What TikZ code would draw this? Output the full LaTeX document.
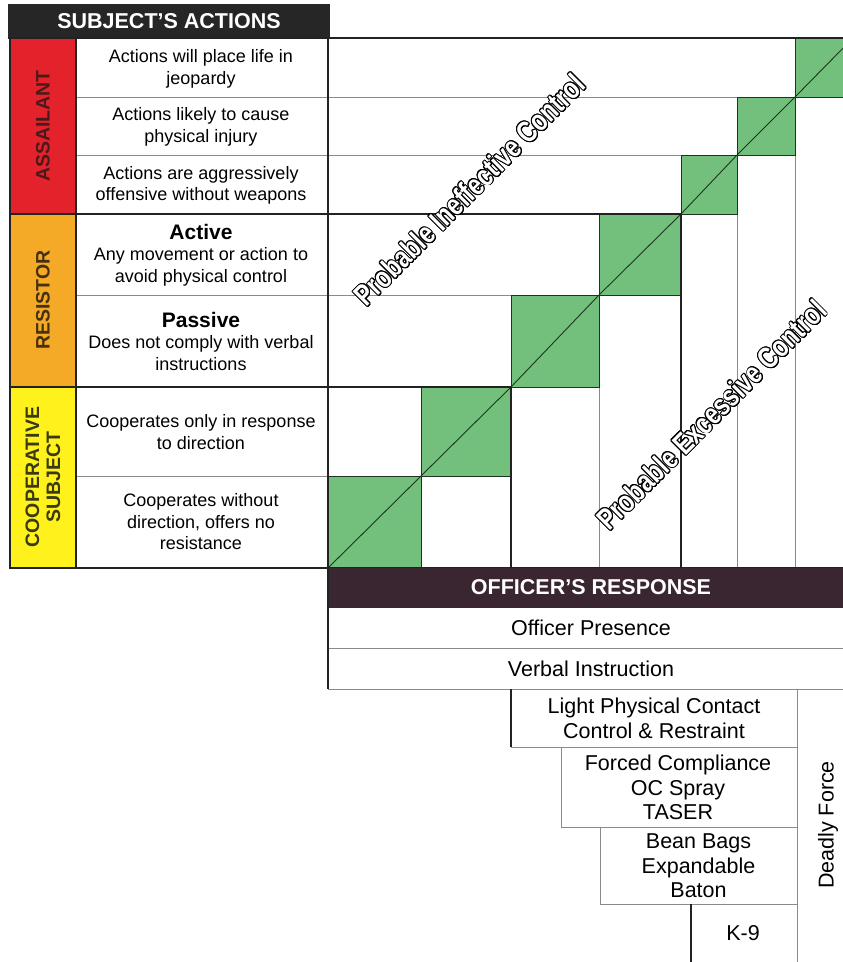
\documentclass[tikz,border=0pt]{standalone}
\usepackage{fontspec}
\setmainfont{Liberation Sans}
\usepackage{graphicx}
\usepackage{contour}
\contourlength{1.1pt}
\definecolor{hdrdark}{HTML}{262626}
\definecolor{offbar}{HTML}{3A2630}
\definecolor{sqgreen}{HTML}{73C07D}
\definecolor{sqedge}{HTML}{1E3322}
\definecolor{gridgray}{HTML}{8A8A8A}
\definecolor{linedark}{HTML}{222222}
\definecolor{redc}{HTML}{E3222B}
\definecolor{orangec}{HTML}{F4AA26}
\definecolor{yellowc}{HTML}{FFF21C}
\definecolor{redtxt}{HTML}{4A1A1A}
\definecolor{orangetxt}{HTML}{47300E}
\definecolor{yellowtxt}{HTML}{3A3A10}
\tikzset{
  thinline/.style={draw=gridgray, line width=0.9pt},
  boldline/.style={draw=linedark, line width=2.6pt},
  greensq/.style={fill=sqgreen, draw=sqedge, line width=1pt},
  diagline/.style={draw=sqedge, line width=0.9pt},
  celltext/.style={align=center, inner sep=0pt, font=\fontsize{18}{21.5}\selectfont},
  resptext/.style={align=center, inner sep=0pt, font=\fontsize{21.5}{24.5}\selectfont},
  bartext/.style={inner sep=0pt, text=white, font=\fontsize{21.5}{24}\selectfont\bfseries},
  cattext/.style={rotate=90, align=center, inner sep=0pt, font=\fontsize{19.5}{21}\selectfont\bfseries},
  outlinetext/.style={rotate=45, inner sep=0pt, text=white, font=\fontsize{30}{30}\selectfont\bfseries}
}
\begin{document}
\begin{tikzpicture}[x=1pt,y=-1pt]
\useasboundingbox (0,0) rectangle (843,962);
\fill[white] (0,0) rectangle (843,962);
\clip (0,0) rectangle (843,962);

% ---------- header ----------
\fill[hdrdark] (8,4) rectangle (329.5,39);
\node[bartext] (hdr) at (169,21.5) {SUBJECT’S ACTIONS};

% ---------- left category column ----------
\fill[redc] (10,38) rectangle (76,214);
\fill[orangec] (10,214) rectangle (76,387);
\fill[yellowc] (10,387) rectangle (76,568);
\node[cattext, text=redtxt] (cat1) at (43,126) {ASSAILANT};
\node[cattext, text=orangetxt] (cat2) at (43,300) {RESISTOR};
\node[cattext, text=yellowtxt] (cat3) at (43,477) {COOPERATIVE\\SUBJECT};

% thin row lines of left table
\draw[thinline] (76,97) -- (328,97);
\draw[thinline] (76,155) -- (328,155);
\draw[thinline] (76,295) -- (328,295);
\draw[thinline] (76,476) -- (328,476);

% row texts
\node[celltext] (r1) at (201,69) {Actions will place life in\\jeopardy};
\node[celltext] (r2) at (201,127) {Actions likely to cause\\physical injury};
\node[celltext] (r3) at (201,185.5) {Actions are aggressively\\offensive without weapons};
\node[celltext] (r4) at (201,255) {{\fontsize{21}{22}\selectfont\bfseries Active}\\Any movement or action to\\avoid physical control};
\node[celltext] (r5) at (201,341) {{\fontsize{21}{22}\selectfont\bfseries Passive}\\Does not comply with verbal\\instructions};
\node[celltext] (r6) at (201,432) {Cooperates only in response\\to direction};
\node[celltext] (r7) at (201,522) {Cooperates without\\direction, offers no\\resistance};

% ---------- grid: thin lines ----------
\draw[thinline] (328,476) -- (511,476);
\draw[thinline] (328,387) -- (599,387);
\draw[thinline] (328,295) -- (681,295);
\draw[thinline] (328,214) -- (737,214);
\draw[thinline] (328,155) -- (795,155);
\draw[thinline] (328,97) -- (853,97);
\draw[thinline] (421,568) -- (421,387);
\draw[thinline] (511,568) -- (511,295);
\draw[thinline] (599,568) -- (599,214);
\draw[thinline] (681,568) -- (681,155);
\draw[thinline] (737,568) -- (737,97);
\draw[thinline] (795,568) -- (795,38);

% ---------- green diagonal squares ----------
\draw[greensq] (328,568) rectangle (421,476);
\draw[greensq] (421,476) rectangle (511,387);
\draw[greensq] (511,387) rectangle (599,295);
\draw[greensq] (599,295) rectangle (681,214);
\draw[greensq] (681,214) rectangle (737,155);
\draw[greensq] (737,155) rectangle (795,97);
\draw[greensq] (795,97) rectangle (853,38);
\draw[diagline] (328,568) -- (421,476) -- (511,387) -- (599,295) -- (681,214) -- (737,155) -- (795,97) -- (853,38);

% ---------- thick category lines ----------
\draw[boldline] (10,38) rectangle (328,568);
\draw[boldline] (76,38) -- (76,568);
\draw[boldline] (10,214) -- (328,214);
\draw[boldline] (10,387) -- (328,387);
\draw[boldline] (328,38) -- (843,38);
\draw[boldline] (328,387) -- (511,387);
\draw[boldline] (511,387) -- (511,568);
\draw[boldline] (328,214) -- (681,214);
\draw[boldline] (681,214) -- (681,568);
\draw[boldline] (10,568) -- (843,568);

% ---------- diagonal outlined labels ----------
\node[outlinetext] (ineff) at (470,190) {\scalebox{0.78}[1]{\contour{black}{Probable Ineffective Control}}};
\node[outlinetext] (exces) at (712,415) {\scalebox{0.78}[1]{\contour{black}{Probable Excessive Control}}};

% ---------- officer's response ----------
\fill[offbar] (328,568) rectangle (843,608);
\node[bartext] (ofr) at (591,587.5) {OFFICER’S RESPONSE};

\draw[thinline] (328,648) -- (843,648);
\draw[thinline] (328,689) -- (843,689);
\draw[thinline] (511,747) -- (797,747);
\draw[thinline] (797,689) -- (797,962);
\draw[thinline] (561,747) -- (561,827) -- (797,827);
\draw[thinline] (600,827) -- (600,904) -- (797,904);
\draw[boldline] (328,568) -- (328,689);
\draw[boldline] (511,689) -- (511,747);
\draw[boldline] (691,904) -- (691,962);

\node[resptext] (pres) at (591,628) {Officer Presence};
\node[resptext] (verb) at (591,668.5) {Verbal Instruction};
\node[resptext] (light) at (654,718.5) {Light Physical Contact\\Control \& Restraint};
\node[resptext] (forced) at (678,787.5) {Forced Compliance\\OC Spray\\TASER};
\node[resptext] (bean) at (698.5,866) {Bean Bags\\Expandable\\Baton};
\node[resptext] (k9) at (743,933) {K-9};
\node[resptext, rotate=90] (deadly) at (828,825) {Deadly Force};
\end{tikzpicture}
\end{document}
